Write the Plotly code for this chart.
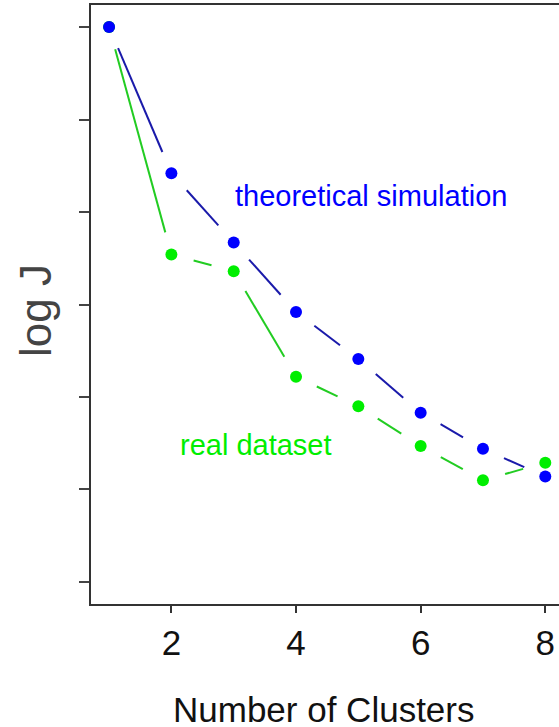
import math
import plotly.graph_objects as go

# ---- data ----
clusters = [1, 2, 3, 4, 5, 6, 7, 8]
theoretical = [7.00, 5.42, 4.67, 3.92, 3.41, 2.83, 2.44, 2.14]
real = [7.00, 4.54, 4.36, 3.22, 2.90, 2.47, 2.10, 2.29]
x_ticks = [2, 4, 6, 8]
y_ticks = [1, 2, 3, 4, 5, 6, 7]

# ---- layout geometry ----
W, H = 559, 727
M = dict(l=91, r=0, t=5, b=123)
x_range = [0.71, 8.22]
y_range = [0.762, 7.238]
plot_w = W - M["l"] - M["r"]
plot_h = H - M["t"] - M["b"]
sx = plot_w / (x_range[1] - x_range[0])
sy = plot_h / (y_range[1] - y_range[0])
GAP = 23  # px gap around points (R type="b")


def gapped(xs, ys):
    gx, gy = [], []
    for i in range(len(xs) - 1):
        dx = (xs[i + 1] - xs[i]) * sx
        dy = (ys[i + 1] - ys[i]) * sy
        L = math.hypot(dx, dy)
        if L <= 2 * GAP:
            continue
        f = GAP / L
        gx += [xs[i] + (xs[i + 1] - xs[i]) * f, xs[i + 1] - (xs[i + 1] - xs[i]) * f, None]
        gy += [ys[i] + (ys[i + 1] - ys[i]) * f, ys[i + 1] - (ys[i + 1] - ys[i]) * f, None]
    return gx, gy


fig = go.Figure()
series = [
    (real, "#00EE00", "#22CC22"),
    (theoretical, "#0000FF", "#1A1AAA"),
]
for vals, mcol, lcol in series:
    lx, ly = gapped(clusters, vals)
    fig.add_trace(go.Scatter(x=lx, y=ly, mode="lines",
                             line=dict(color=lcol, width=2),
                             hoverinfo="skip", showlegend=False))
    fig.add_trace(go.Scatter(x=clusters, y=vals, mode="markers",
                             marker=dict(color=mcol, size=12, line=dict(width=0)),
                             showlegend=False))

font = "Liberation Sans, Arial, Helvetica, sans-serif"
fig.update_layout(
    width=W, height=H, margin=M,
    paper_bgcolor="white", plot_bgcolor="white",
    font=dict(family=font, color="#111111"),
    xaxis=dict(range=x_range, tickvals=x_ticks, ticks="outside", ticklen=7,
               tickwidth=2, tickcolor="#333333", showline=True, linewidth=2,
               linecolor="#333333", mirror=True, showgrid=False, zeroline=False,
               tickfont=dict(size=35, family=font, color="#111111")),
    yaxis=dict(range=y_range, tickvals=y_ticks, showticklabels=False,
               ticks="outside", ticklen=10, tickwidth=2, tickcolor="#444444",
               showline=True, linewidth=2, linecolor="#333333", mirror=False,
               showgrid=False, zeroline=False),
    annotations=[
        dict(text="Number of Clusters", xref="paper", yref="paper",
             x=(323.5 - M["l"]) / plot_w, y=(H - M["b"] - 709) / plot_h,
             xanchor="center", yanchor="middle", showarrow=False,
             font=dict(size=35, family=font, color="#111111")),
        dict(text="log J", xref="paper", yref="paper",
             x=(35 - M["l"]) / plot_w, y=(H - M["b"] - 311) / plot_h,
             xanchor="center", yanchor="middle", textangle=-90, showarrow=False,
             font=dict(size=44, family=font, color="#444444")),
        dict(text="theoretical simulation", xref="paper", yref="paper",
             x=(233 - M["l"]) / plot_w, y=(H - M["b"] - 196) / plot_h,
             xanchor="left", yanchor="middle", showarrow=False,
             font=dict(size=29, family=font, color="#0000FF")),
        dict(text="real dataset", xref="paper", yref="paper",
             x=(178 - M["l"]) / plot_w, y=(H - M["b"] - 445) / plot_h,
             xanchor="left", yanchor="middle", showarrow=False,
             font=dict(size=29, family=font, color="#00EE00")),
    ],
)

fig.write_html("out.html",
               config={"displayModeBar": False},
               post_script="document.body.style.margin='0';document.body.style.overflow='hidden';")
